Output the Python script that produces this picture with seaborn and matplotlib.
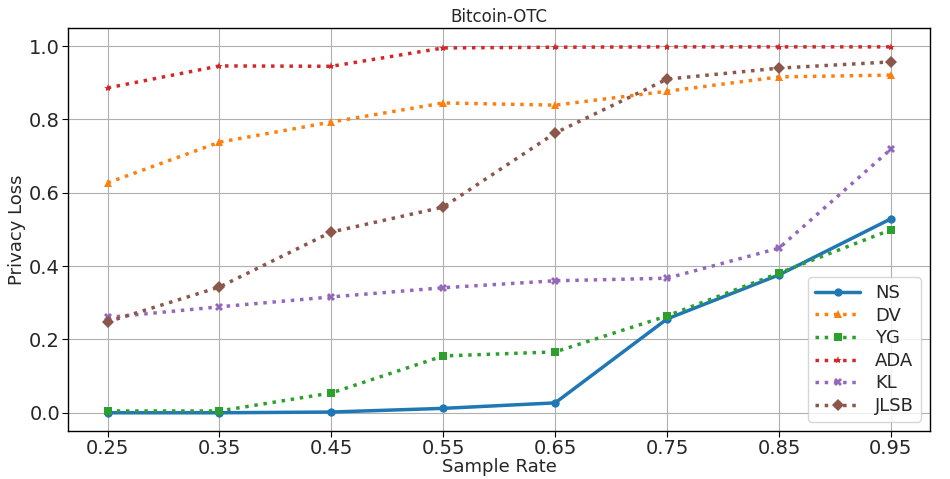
import pandas as pd
import seaborn as sns
import matplotlib
matplotlib.use("Agg")
import matplotlib.pyplot as plt

sample_rate = [0.25, 0.35, 0.45, 0.55, 0.65, 0.75, 0.85, 0.95]
ns = [0.0, 0.0, 0.002, 0.012, 0.027, 0.256, 0.376, 0.529]
dv = [0.627, 0.738, 0.793, 0.845, 0.839, 0.877, 0.916, 0.921]
yg = [0.005, 0.005, 0.054, 0.155, 0.166, 0.264, 0.381, 0.499]
ada = [0.886, 0.946, 0.945, 0.995, 0.997, 0.998, 0.998, 0.998]
kl = [0.260, 0.289, 0.316, 0.341, 0.360, 0.367, 0.449, 0.719]
jlsb = [0.248, 0.343, 0.493, 0.561, 0.763, 0.910, 0.940, 0.957]

series = {"NS": ns, "DV": dv, "YG": yg, "ADA": ada, "KL": kl, "JLSB": jlsb}
styles = {
    "NS": ("o", "-"),
    "DV": ("^", ":"),
    "YG": ("s", ":"),
    "ADA": ("*", ":"),
    "KL": ("X", ":"),
    "JLSB": ("D", ":"),
}

sns.set_style("whitegrid", {"axes.edgecolor": "black", "grid.color": "#b0b0b0",
                            "xtick.bottom": True, "ytick.left": True})
plt.rcParams["font.family"] = ["DejaVu Sans"]
colors = sns.color_palette("tab10")

fig = plt.figure(figsize=(9.5, 4.79), dpi=100)
ax = fig.add_axes([0.072, 0.100, 0.907, 0.842])

for i, (name, vals) in enumerate(series.items()):
    marker, ls = styles[name]
    df = pd.DataFrame({"x": sample_rate, "y": vals})
    sns.lineplot(data=df, x="x", y="y", ax=ax, color=colors[i], marker=marker,
                 linestyle=ls, linewidth=2.5, markersize=6, markeredgewidth=0,
                 label=name)

ax.set_xlim(0.215, 0.985)
ax.set_ylim(-0.05, 1.05)
ax.set_xticks(sample_rate)
ax.set_xticklabels([f"{v:.2f}" for v in sample_rate])
ax.set_yticks([0.0, 0.2, 0.4, 0.6, 0.8, 1.0])
ax.tick_params(labelsize=14, length=4, color="black", pad=2)
ax.set_xlabel("Sample Rate", fontsize=13, labelpad=0)
ax.set_ylabel("Privacy Loss", fontsize=13, labelpad=2)
ax.set_title("Bitcoin-OTC", fontsize=12, pad=4)
for sp in ax.spines.values():
    sp.set_linewidth(1.0)
ax.legend(loc="lower right", fontsize=13, handlelength=2.5, labelspacing=0.25,
          borderaxespad=0.5)

fig.savefig("out.png", dpi=100)
